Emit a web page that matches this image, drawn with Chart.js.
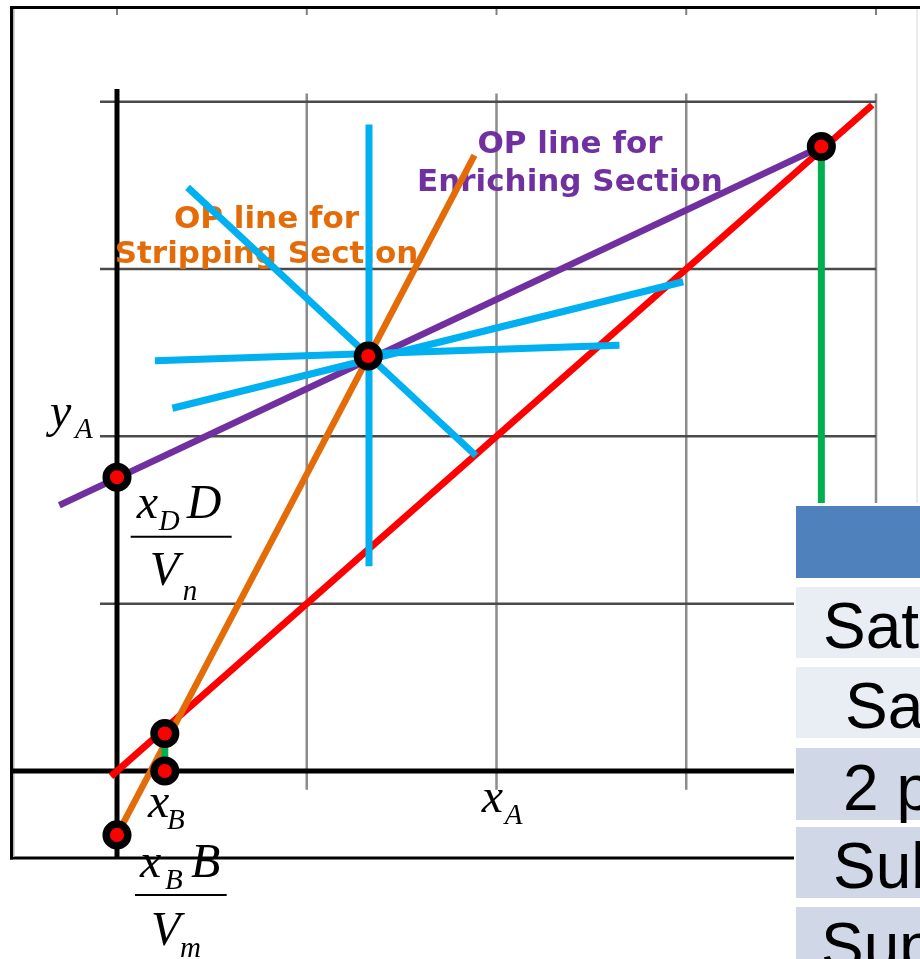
<!DOCTYPE html>
<html>
<head>
<meta charset="utf-8">
<script src="https://cdn.jsdelivr.net/npm/chart.js@4.4.1/dist/chart.umd.min.js"></script>
<style>
  html, body { margin: 0; padding: 0; background: #ffffff; }
  #wrap { width: 920px; height: 959px; position: relative; }
</style>
</head>
<body>
<div id="wrap"><canvas id="c"></canvas></div>
<script>
// grid positions (mole fraction)
const gridTicks = [0.25, 0.5, 0.75, 1.0];
const frameTicks = [0, 0.25, 0.5, 0.75, 1.0];

// y = x reference line
const diagX = [-0.008, 0.995];
const diagY = [-0.008, 0.995];

// enriching section operating line
const enrichX = [-0.076, 0.928];
const enrichY = [0.397, 0.933];

// stripping section operating line
const stripX = [0.0, 0.471];
const stripY = [-0.0955, 0.920];

// q-lines through the feed intersection (one pair of ends per line)
const qLineX = [[0.332, 0.332], [0.093, 0.473], [0.050, 0.662], [0.073, 0.746]];
const qLineY = [[0.966, 0.306], [0.872, 0.471], [0.613, 0.636], [0.542, 0.731]];

// vertical drops to the x axis
const dropX = [[0.928, 0.928], [0.063, 0.063]];
const dropY = [[0.933, 0.0], [0.056, 0.0]];

// marked points: x_D, feed intersection, x_D D/V_n, x_B on diagonal, x_B, -x_B B/V_m
const markX = [0.928, 0.331, 0.0, 0.063, 0.063, 0.0];
const markY = [0.933, 0.620, 0.439, 0.056, 0.0, -0.0955];

// feed condition table
const tableRows = ['Saturated liquid', 'Saturated vapor', '2 phase', 'Subcooled liquid', 'Superheated vapor'];

const pts = (xs, ys) => xs.map((v, i) => ({ x: v, y: ys[i] }));

function lineSet(xs, ys, color, width, order) {
  return {
    data: pts(xs, ys), showLine: true, borderColor: color, borderWidth: width,
    pointRadius: 0, pointHoverRadius: 0, borderCapStyle: 'butt', order: order, clip: false
  };
}

const datasets = [
  {
    data: pts(markX, markY), showLine: false, pointRadius: 10.8, pointHoverRadius: 10.8,
    pointBorderWidth: 7.5, pointBackgroundColor: '#FF0000', pointBorderColor: '#000000',
    order: 0, clip: false
  }
];
qLineX.forEach((xs, i) => datasets.push(lineSet(xs, qLineY[i], '#00B0F0', 7, 1)));
dropX.forEach((xs, i) => datasets.push(lineSet(xs, dropY[i], '#00B050', 7, 2)));
datasets.push(lineSet(stripX, stripY, '#E36C09', 6.5, 3));
datasets.push(lineSet(enrichX, enrichY, '#7030A0', 6.5, 4));
datasets.push(lineSet(diagX, diagY, '#FF0000', 6.8, 5));

function seg(ctx, x1, y1, x2, y2) {
  ctx.beginPath(); ctx.moveTo(x1, y1); ctx.lineTo(x2, y2); ctx.stroke();
}

// frame, grid, axes and text labels, drawn under the lines
const backdrop = {
  id: 'backdrop',
  beforeDatasetsDraw(chart) {
    const { ctx, chartArea: a, scales: { x, y } } = chart;
    const X = v => x.getPixelForValue(v), Y = v => y.getPixelForValue(v);
    ctx.save();
    ctx.lineCap = 'butt';

    // grid
    ctx.strokeStyle = '#8c8c8c'; ctx.lineWidth = 2.5;
    gridTicks.forEach(t => seg(ctx, X(t), Y(1.0124), X(t), Y(-0.028)));
    ctx.strokeStyle = '#4a4a4a';
    gridTicks.forEach(t => seg(ctx, X(-0.0224), Y(t), X(1.0), Y(t)));

    // small ticks along the top edge
    ctx.strokeStyle = '#808080'; ctx.lineWidth = 2;
    frameTicks.forEach(t => seg(ctx, X(t), a.top + 2, X(t), a.top + 8));

    // outer frame
    ctx.strokeStyle = '#000000'; ctx.lineWidth = 3;
    seg(ctx, a.left, a.top + 0.5, a.right, a.top + 0.5);
    seg(ctx, a.left + 1.5, a.top, a.left + 1.5, a.bottom + 1.5);
    seg(ctx, a.left, a.bottom, a.right, a.bottom);
    ctx.strokeStyle = '#b4b4b4'; ctx.lineWidth = 1.5;
    seg(ctx, a.left + 3.8, a.top + 2, a.left + 3.8, a.bottom - 1);
    ctx.strokeStyle = '#e4e4e4'; ctx.lineWidth = 1.5;
    seg(ctx, a.right - 3, a.top + 2, a.right - 3, Y(0.4));

    // axes
    ctx.strokeStyle = '#000000'; ctx.lineWidth = 5;
    seg(ctx, X(0), Y(1.019), X(0), a.bottom);
    seg(ctx, a.left, Y(0), X(1.0), Y(0));

    // operating line captions
    ctx.font = 'bold 31px "DejaVu Sans"';
    ctx.textAlign = 'center'; ctx.textBaseline = 'alphabetic';
    ctx.fillStyle = '#7030A0';
    ctx.fillText('OP line for', X(0.5968), Y(0.9234));
    ctx.fillText('Enriching Section', X(0.5968), Y(0.8666));
    ctx.fillStyle = '#E36C09';
    ctx.fillText('OP line for', X(0.197), Y(0.812));
    ctx.fillText('Stripping Section', X(0.197), Y(0.759));

    // symbols
    ctx.fillStyle = '#000000'; ctx.textAlign = 'left';
    const big = 'italic 48px "Liberation Serif"', small = 'italic 29px "Liberation Serif"';
    const put = (t, f, px, py) => { ctx.font = f; ctx.fillText(t, px, py); };

    // y_A
    let ox = X(-0.0883), oy = Y(0.514);
    put('y', big, ox, oy); put('A', small, ox + 25, oy + 11.5);

    // x_D D / V_n
    ox = X(0.0259); oy = Y(0.3776);
    put('x', big, ox, oy); put('D', small, ox + 22, oy + 12); put('D', big, ox + 50, oy);
    ctx.lineWidth = 2; seg(ctx, ox - 6, oy + 18.4, ox + 95, oy + 18.4);
    put('V', big, ox + 13, oy + 67); put('n', small, ox + 46, oy + 82);

    // x_B on the axis
    ox = X(0.0408); oy = Y(-0.0683);
    put('x', big, ox, oy); put('B', small, ox + 19, oy + 12);

    // x_A on the axis
    ox = X(0.4805); oy = Y(-0.0608);
    put('x', big, ox, oy); put('A', small, ox + 23, oy + 12);

    // x_B B / V_m
    ox = X(0.0303); oy = Y(-0.1579);
    put('x', big, ox, oy); put('B', small, ox + 25, oy + 12); put('B', big, ox + 51, oy);
    seg(ctx, ox - 5, oy + 18.3, ox + 86.7, oy + 18.3);
    put('V', big, ox + 11, oy + 68.5); put('m', small, ox + 40, oy + 80);

    ctx.restore();
  }
};

// feed condition table laid over the lower right corner
const table = {
  id: 'table',
  afterDatasetsDraw(chart) {
    const { ctx } = chart;
    ctx.save();
    ctx.fillStyle = '#ffffff';
    ctx.fillRect(794, 503, 126, 456);
    ctx.fillStyle = '#4F81BD';
    ctx.fillRect(796, 506, 124, 72);
    const rowTop = [587, 667, 748, 827, 907];
    const rowH = [71, 71, 72, 71, 60];
    const rowFill = ['#E9EDF4', '#E9EDF4', '#D0D8E8', '#D0D8E8', '#D0D8E8'];
    const textX = [823, 845, 843, 833, 821];
    const textY = [648, 728, 810, 888, 968];
    ctx.font = '64px "Liberation Sans"';
    ctx.textAlign = 'left'; ctx.textBaseline = 'alphabetic';
    tableRows.forEach((t, i) => {
      ctx.fillStyle = rowFill[i];
      ctx.fillRect(796, rowTop[i], 124, rowH[i]);
      ctx.fillStyle = '#000000';
      ctx.fillText(t, textX[i], textY[i]);
    });
    ctx.restore();
  }
};

new Chart(document.getElementById('c'), {
  type: 'scatter',
  data: { datasets },
  options: {
    responsive: true,
    maintainAspectRatio: false,
    animation: false,
    events: [],
    layout: { autoPadding: false, padding: { left: 10, top: 7, right: 0, bottom: 101 } },
    plugins: { legend: { display: false }, tooltip: { enabled: false } },
    scales: {
      x: { type: 'linear', min: -0.14097, max: 1.05797, display: false },
      y: { type: 'linear', min: -0.12999, max: 1.14149, display: false }
    }
  },
  plugins: [backdrop, table]
});
</script>
</body>
</html>
